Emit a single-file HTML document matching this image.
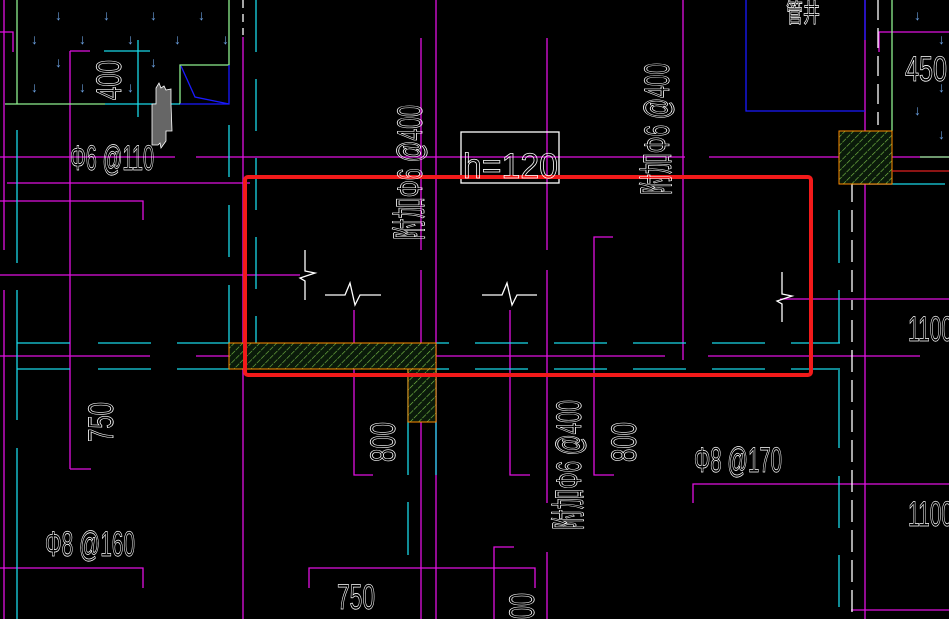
<!DOCTYPE html>
<html><head><meta charset="utf-8"><style>
html,body{margin:0;padding:0;background:#000;width:949px;height:619px;overflow:hidden}
svg{display:block}
text{font-family:"Liberation Sans","Noto Sans CJK SC",sans-serif;fill:none;stroke:#fff;stroke-width:0.8}
</style></head><body>
<svg width="949" height="619" viewBox="0 0 949 619" xmlns="http://www.w3.org/2000/svg">
<defs>
<pattern id="h" width="6" height="6" patternUnits="userSpaceOnUse" patternTransform="rotate(45)">
<rect width="6" height="6" fill="#0a1a0a"/>
<line x1="0" y1="0" x2="0" y2="6" stroke="#7dc24a" stroke-width="1.2" stroke-dasharray="3 1"/>
</pattern>
</defs>
<g stroke-width="1.3" fill="none">
<g stroke="#e010e0">
<line x1="4" y1="0" x2="4" y2="250"/><line x1="4" y1="290" x2="4" y2="619"/>
<polyline points="0,32 13,32 13,52"/>
<line x1="70" y1="51" x2="70" y2="469"/><line x1="70" y1="51" x2="90" y2="51"/><line x1="70" y1="469" x2="91" y2="469"/>
<line x1="0" y1="157" x2="175" y2="157"/><line x1="196" y1="157" x2="685" y2="157"/><line x1="709" y1="157" x2="949" y2="157"/>
<line x1="7" y1="183" x2="250" y2="183"/>
<polyline points="0,201 143,201 143,220"/>
<line x1="0" y1="275" x2="300" y2="275"/>
<line x1="243" y1="37" x2="243" y2="619"/>
<line x1="421" y1="38" x2="421" y2="250"/><line x1="421" y1="270" x2="421" y2="619"/>
<line x1="436" y1="0" x2="436" y2="619"/>
<line x1="547" y1="38" x2="547" y2="250"/><line x1="547" y1="270" x2="547" y2="503"/><line x1="547" y1="552" x2="547" y2="619"/>
<line x1="683" y1="0" x2="683" y2="360"/>
<line x1="865" y1="0" x2="865" y2="619"/>
<polyline points="949,32 879,32 879,52"/>
<polyline points="613,237 594,237 594,475 614,475"/>
<line x1="780" y1="299" x2="949" y2="299"/>
<line x1="0" y1="356" x2="150" y2="356"/><line x1="196" y1="356" x2="665" y2="356"/><line x1="708" y1="356" x2="920" y2="356"/>
<polyline points="354,310 354,475 373,475"/>
<polyline points="510,310 510,475 530,475"/>
<polyline points="0,568 143,568 143,588"/>
<polyline points="309,588 309,568 535,568 535,588"/>
<polyline points="514,547 494,547 494,619"/>
<polyline points="693,503 693,484 949,484"/>
<line x1="851" y1="610" x2="949" y2="610"/>
</g>
<g stroke="#18d8e8">
<line x1="17" y1="130" x2="17" y2="263"/><line x1="17" y1="290" x2="17" y2="420"/><line x1="17" y1="448" x2="17" y2="619"/>
<line x1="138" y1="40" x2="138" y2="117"/><line x1="104" y1="51" x2="150" y2="51"/><line x1="105" y1="104" x2="180" y2="104"/>
<line x1="229" y1="125" x2="229" y2="177"/><line x1="229" y1="205" x2="229" y2="257"/><line x1="229" y1="285" x2="229" y2="343"/>
<g stroke-dasharray="52 27"><line x1="256" y1="0" x2="256" y2="343"/></g>
<line x1="17" y1="343" x2="70" y2="343"/><line x1="98" y1="343" x2="151" y2="343"/><line x1="177" y1="343" x2="230" y2="343"/>
<line x1="17" y1="369" x2="70" y2="369"/><line x1="98" y1="369" x2="151" y2="369"/><line x1="177" y1="369" x2="230" y2="369"/>
<g stroke-dasharray="53 26">
<line x1="436" y1="343" x2="840" y2="343" stroke-dashoffset="-39"/>
<line x1="436" y1="369" x2="840" y2="369" stroke-dashoffset="-39"/>
</g>
<line x1="408" y1="369" x2="408" y2="475"/><line x1="408" y1="502" x2="408" y2="555"/>
<line x1="436" y1="369" x2="436" y2="475"/>
<line x1="839" y1="210" x2="839" y2="263"/><line x1="839" y1="290" x2="839" y2="343"/><line x1="839" y1="370" x2="839" y2="448"/><line x1="839" y1="476" x2="839" y2="528"/><line x1="839" y1="555" x2="839" y2="607"/>
<line x1="892" y1="184" x2="945" y2="184"/>
</g>
<g stroke="#8ef08e">
<line x1="17" y1="0" x2="17" y2="104"/><line x1="5" y1="104" x2="105" y2="104"/>
<polyline points="229,0 229,65 180,65 180,104"/>
<line x1="892" y1="0" x2="892" y2="131"/><line x1="920" y1="157" x2="949" y2="157"/>
</g>
<g stroke="#1a1aff">
<polyline points="229,65 229,104 180,104"/><polyline points="181,66 195,97 229,104"/>
<polyline points="746,0 746,111 865,111"/><line x1="865" y1="0" x2="865" y2="40"/>
</g>
<g stroke="#fff">
<line x1="243" y1="0" x2="243" y2="35" stroke-dasharray="8 6"/>
<line x1="878" y1="0" x2="878" y2="125" stroke-dasharray="20 8"/>
<line x1="852" y1="180" x2="852" y2="310" stroke-dasharray="22 8"/>
<line x1="852" y1="320" x2="852" y2="619" stroke-dasharray="22 8"/>
<rect x="461" y="132" width="98" height="51"/>
<polyline points="305,250 305,271 315,273 300,278 305,281 305,300"/>
<polyline points="325,295 345,295 350,283 355,305 360,295 381,295"/>
<polyline points="482,295 502,295 507,283 512,305 517,295 537,295"/>
<polyline points="782,272 782,294 792,296 777,301 782,304 782,322"/>
<polyline points="852,172 852,184 892,184"/>
</g>
</g>
<rect x="229" y="343" width="207" height="26" fill="url(#h)" stroke="#ff8c00" stroke-width="1"/>
<rect x="408" y="369" width="28" height="53" fill="url(#h)" stroke="#ff8c00" stroke-width="1"/>
<rect x="839" y="131" width="53" height="53" fill="url(#h)" stroke="#ff8c00" stroke-width="1"/>
<line x1="892" y1="171" x2="949" y2="171" stroke="#e02020" stroke-width="1.2"/>
<polygon points="152,104 156,104 156,88 159,83 161,88 164,86 166,90 171,89 171,104 172,131 166,131 166,141 161,148 160,143 158,145 152,145" fill="#666" stroke="#fff" stroke-width="0.8"/>
<rect x="245" y="177" width="566" height="198" rx="3" fill="none" stroke="#f21a1a" stroke-width="4"/>
<g font-size="35">
<text x="70" y="170" textLength="84" lengthAdjust="spacingAndGlyphs">Φ6 @110</text>
<text x="45" y="556" textLength="90" lengthAdjust="spacingAndGlyphs">Φ8 @160</text>
<text x="694" y="472" textLength="88" lengthAdjust="spacingAndGlyphs">Φ8 @170</text>
<text x="337" y="609" textLength="38" lengthAdjust="spacingAndGlyphs">750</text>
<text x="905" y="81" textLength="42" lengthAdjust="spacingAndGlyphs">450</text>
<text x="908" y="341" textLength="45" lengthAdjust="spacingAndGlyphs">1100</text>
<text x="908" y="526" textLength="45" lengthAdjust="spacingAndGlyphs">1100</text>
<text x="463" y="178" textLength="95" lengthAdjust="spacingAndGlyphs">h=120</text>
<text x="786" y="22" font-size="26" textLength="34" lengthAdjust="spacingAndGlyphs">管井</text>
<text transform="translate(121,100) rotate(-90)" textLength="40" lengthAdjust="spacingAndGlyphs">400</text>
<text transform="translate(113,442) rotate(-90)" textLength="40" lengthAdjust="spacingAndGlyphs">750</text>
<text transform="translate(395,462) rotate(-90)" textLength="40" lengthAdjust="spacingAndGlyphs">800</text>
<text transform="translate(636,462) rotate(-90)" textLength="40" lengthAdjust="spacingAndGlyphs">800</text>
<text transform="translate(534,619) rotate(-90)" textLength="26" lengthAdjust="spacingAndGlyphs">00</text>
<text transform="translate(422,240) rotate(-90)" textLength="135" lengthAdjust="spacingAndGlyphs">附加Φ6 @400</text>
<text transform="translate(669,195) rotate(-90)" textLength="132" lengthAdjust="spacingAndGlyphs">附加Φ6 @400</text>
<text transform="translate(581,530) rotate(-90)" textLength="130" lengthAdjust="spacingAndGlyphs">附加Φ6 @400</text>
</g>
<g font-size="14">
<text x="55" y="20" style="fill:#6aa0e0;stroke:none">↓</text><text x="103" y="20" style="fill:#6aa0e0;stroke:none">↓</text><text x="150" y="20" style="fill:#6aa0e0;stroke:none">↓</text><text x="198" y="20" style="fill:#6aa0e0;stroke:none">↓</text>
<text x="31" y="44" style="fill:#6aa0e0;stroke:none">↓</text><text x="79" y="44" style="fill:#6aa0e0;stroke:none">↓</text><text x="127" y="44" style="fill:#6aa0e0;stroke:none">↓</text><text x="174" y="44" style="fill:#6aa0e0;stroke:none">↓</text><text x="222" y="44" style="fill:#6aa0e0;stroke:none">↓</text>
<text x="55" y="67" style="fill:#6aa0e0;stroke:none">↓</text><text x="150" y="67" style="fill:#6aa0e0;stroke:none">↓</text>
<text x="31" y="92" style="fill:#6aa0e0;stroke:none">↓</text><text x="79" y="92" style="fill:#6aa0e0;stroke:none">↓</text><text x="127" y="92" style="fill:#6aa0e0;stroke:none">↓</text>
<text x="914" y="20" style="fill:#6aa0e0;stroke:none">↓</text><text x="938" y="44" style="fill:#6aa0e0;stroke:none">↓</text><text x="938" y="92" style="fill:#6aa0e0;stroke:none">↓</text><text x="914" y="115" style="fill:#6aa0e0;stroke:none">↓</text><text x="938" y="139" style="fill:#6aa0e0;stroke:none">↓</text>
</g>
</svg>
</body></html>
